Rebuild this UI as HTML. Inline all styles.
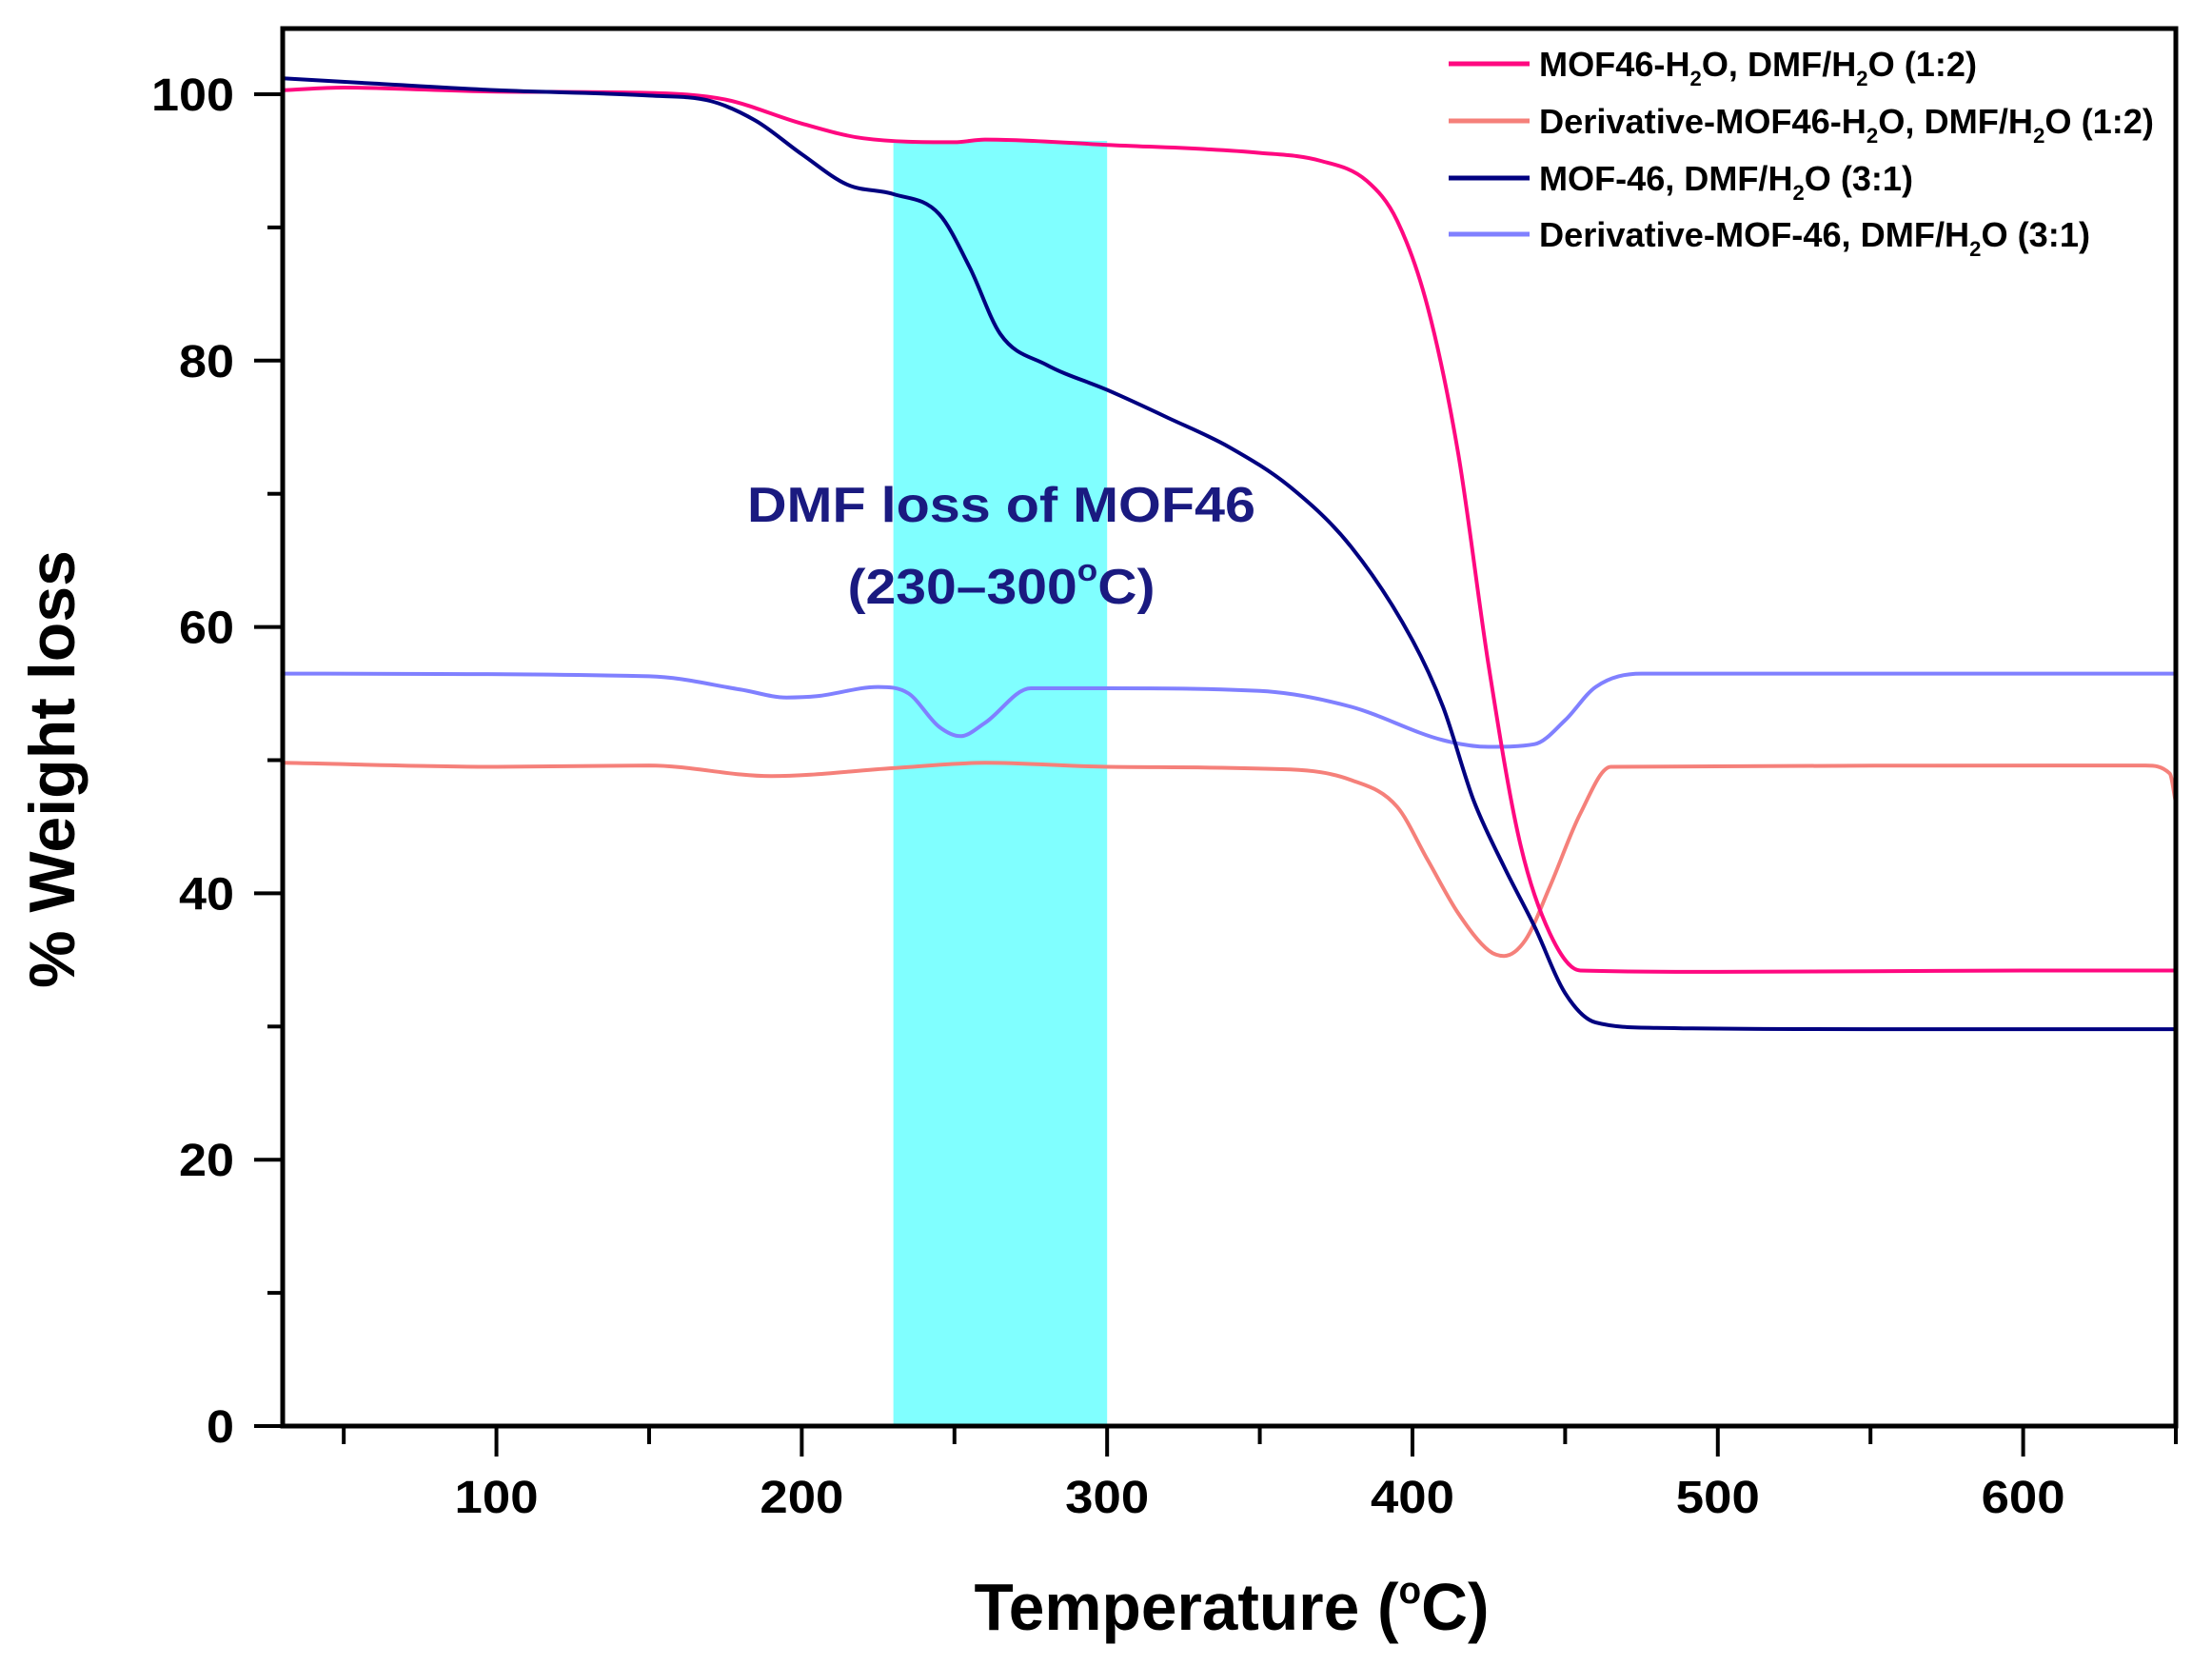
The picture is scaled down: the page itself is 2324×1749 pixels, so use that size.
<!DOCTYPE html>
<html><head><meta charset="utf-8"><style>
html,body{margin:0;padding:0;background:#fff}
svg{display:block}
text{font-family:"Liberation Sans Narrow","Liberation Sans",sans-serif;font-weight:bold}
</style></head><body>
<svg id="chart" width="2324" height="1749" viewBox="0 0 2324 1749" xmlns="http://www.w3.org/2000/svg">
<g id="plot"></g>
</svg>
<script>
const xTicks=[100,200,300,400,500,600];
const yTicks=[0,20,40,60,80,100];
const pinkT=[30,50,100,150,175,200,220,250,260,300,350,370,385,395,405,415,425,435,445,455,500,600,650];
const pinkV=[100.3,100.5,100.2,100.1,99.6,97.8,96.7,96.4,96.6,96.2,95.6,95.0,93.5,90.5,84,73,57,44,37,34.2,34.1,34.2,34.2];
const navyT=[30,60,100,150,170,185,200,215,230,245,255,265,280,300,320,340,360,380,400,410,420,430,440,450,460,480,550,650];
const navyV=[101.2,100.8,100.3,99.9,99.5,98.0,95.5,93.2,92.5,91,87,82,79.7,77.8,75.7,73.5,70.5,66,59,54,47,42,37.5,32.5,30.3,29.9,29.8,29.8];
const lblueT=[30,150,180,195,205,225,235,245,252,260,275,300,350,380,410,425,440,450,460,475,650];
const lblueV=[56.5,56.3,55.3,54.7,54.8,55.5,55,52.5,51.8,52.8,55.4,55.4,55.2,54,51.5,51,51.2,53,55.5,56.5,56.5];
const salmonT=[30,100,150,190,230,260,300,360,380,395,405,415,425,430,437,445,455,465,640,648,650];
const salmonV=[49.8,49.5,49.6,48.8,49.4,49.8,49.5,49.3,48.5,46.5,42.5,38.5,35.7,35.3,36.5,40.5,46,49.5,49.6,49.0,46.8];
const band=[230,300,96.5];

const X0=297,X1=2286,T0=30,T1=650,Y0=1498,Y100=99;
const sx=t=>X0+(t-T0)*(X1-X0)/(T1-T0);
const sy=v=>Y0+(v)*(Y100-Y0)/100;
const NS="http://www.w3.org/2000/svg";
const g=document.getElementById('plot');
function mk(tag,attrs,parent){const e=document.createElementNS(NS,tag);for(const k in attrs)e.setAttribute(k,attrs[k]);(parent||g).appendChild(e);return e;}

const r=mk('rect',{x:sx(band[0]),y:sy(band[2]),width:sx(band[1])-sx(band[0]),height:Y0-sy(band[2]),fill:'#80ffff'});



function monoPath(xs,ys){
  const n=xs.length,d=[],m=[];
  for(let i=0;i<n-1;i++)d.push((ys[i+1]-ys[i])/(xs[i+1]-xs[i]));
  m[0]=d[0];m[n-1]=d[n-2];
  for(let i=1;i<n-1;i++){m[i]=(d[i-1]*d[i]<=0)?0:(d[i-1]+d[i])/2;}
  for(let i=0;i<n-1;i++){
    if(d[i]===0){m[i]=0;m[i+1]=0;continue;}
    const a=m[i]/d[i],b=m[i+1]/d[i],s=a*a+b*b;
    if(s>9){const t=3/Math.sqrt(s);m[i]=t*a*d[i];m[i+1]=t*b*d[i];}
  }
  let p='M'+xs[0].toFixed(1)+' '+ys[0].toFixed(1);
  for(let i=0;i<n-1;i++){
    const h=(xs[i+1]-xs[i])/3;
    p+=' C'+(xs[i]+h).toFixed(1)+' '+(ys[i]+m[i]*h).toFixed(1)+' '+(xs[i+1]-h).toFixed(1)+' '+(ys[i+1]-m[i+1]*h).toFixed(1)+' '+xs[i+1].toFixed(1)+' '+ys[i+1].toFixed(1);
  }
  return p;
}
function series(T,V,color,name){
  const p=mk('path',{d:monoPath(T.map(sx),V.map(sy)),fill:'none',stroke:color,'stroke-width':4,'stroke-linejoin':'round'});
  
  
}
series(salmonT,salmonV,'#f5807a','derivative-mof46-h2o-line');
series(lblueT,lblueV,'#8080ff','derivative-mof46-line');
series(pinkT,pinkV,'#ff0880','mof46-h2o-line');
series(navyT,navyV,'#000080','mof46-line');

const fr=mk('rect',{x:X0,y:30,width:X1-X0,height:Y0-30,fill:'none',stroke:'#000','stroke-width':5});



for(let t=50;t<=650;t+=50){
  const maj=t%100===0;
  const l=mk('line',{x1:sx(t),x2:sx(t),y1:Y0,y2:Y0+(maj?32:19),stroke:'#000','stroke-width':4});
  
  
}
xTicks.forEach(t=>{
  const tx=mk('text',{x:sx(t),y:1589,'text-anchor':'middle','font-size':48,textLength:88,lengthAdjust:'spacingAndGlyphs'});
  tx.textContent=t;
  
  
});
for(let v=0;v<=100;v+=10){
  const maj=v%20===0;
  const l=mk('line',{x1:X0-(maj?30:16),x2:X0,y1:sy(v),y2:sy(v),stroke:'#000','stroke-width':4});
  
  
}
yTicks.forEach(v=>{
  const s=String(v);
  const tx=mk('text',{x:246,y:sy(v)+17,'text-anchor':'end','font-size':48,textLength:s.length*29,lengthAdjust:'spacingAndGlyphs'});
  tx.textContent=s;
  
  
});

const xt=mk('text',{x:1294,y:1712,'text-anchor':'middle','font-size':70,textLength:541,lengthAdjust:'spacingAndGlyphs'});
xt.innerHTML='Temperature (<tspan font-size="40" dy="-28">o</tspan><tspan dy="28">C)</tspan>';


const yt=mk('text',{x:0,y:0,'text-anchor':'middle','font-size':68,textLength:460,lengthAdjust:'spacingAndGlyphs',transform:'translate(78,808) rotate(-90)'});
yt.textContent='% Weight loss';



const a1=mk('text',{x:1052,y:548,'text-anchor':'middle','font-size':52,fill:'#1a1a80',textLength:534,lengthAdjust:'spacingAndGlyphs'});
a1.textContent='DMF loss of MOF46';


const a2=mk('text',{x:1052,y:634,'text-anchor':'middle','font-size':52,fill:'#1a1a80',textLength:323,lengthAdjust:'spacingAndGlyphs'});
a2.innerHTML='(230–300<tspan font-size="32" dy="-24">o</tspan><tspan dy="24">C)</tspan>';



const legColors=['#ff0880','#f5807a','#000080','#8080ff'];
const legLabels=['MOF46-H|O, DMF/H|O (1:2)','Derivative-MOF46-H|O, DMF/H|O (1:2)','MOF-46, DMF/H|O (3:1)','Derivative-MOF-46, DMF/H|O (3:1)'];
const legW=[460,646,393,579];
const legY=[67,127,187,246];
legLabels.forEach((lab,i)=>{
  const l=mk('line',{x1:1522,x2:1607,y1:legY[i],y2:legY[i],stroke:legColors[i],'stroke-width':5});
  
  
  const t=mk('text',{x:1617,y:legY[i]+13,'font-size':36,textLength:legW[i],lengthAdjust:'spacingAndGlyphs'});
  const parts=lab.split('|');
  let html=parts[0];
  for(let k=1;k<parts.length;k++){
    html+='<tspan font-size="22" dy="10">2</tspan><tspan dy="-10">'+parts[k]+'</tspan>';
  }
  t.innerHTML=html;
  
  
});
</script>
</body></html>
